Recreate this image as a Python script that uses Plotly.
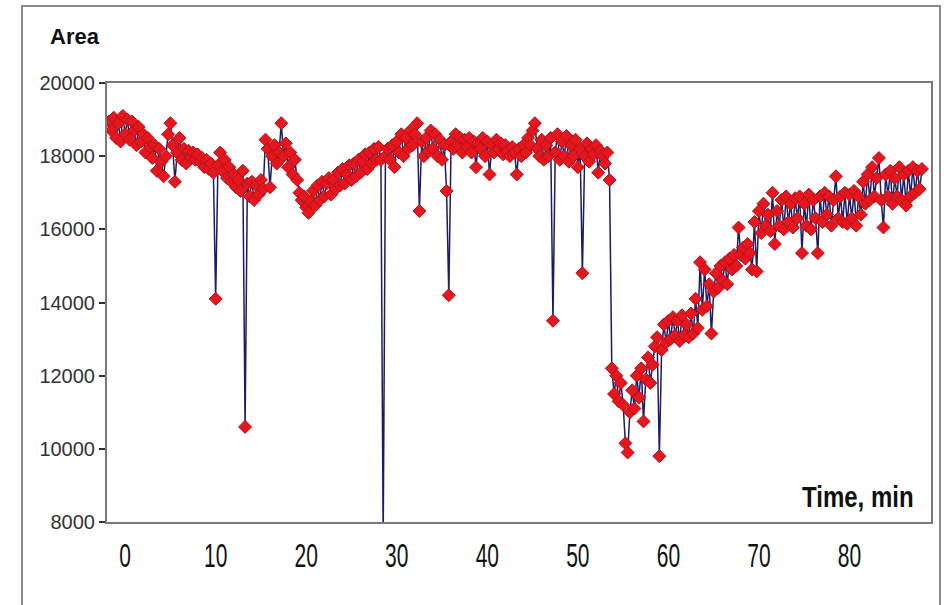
import plotly.graph_objects as go

# Sampling times (min) of the peak-area readings
TIME_MIN = [
    -1.75, -1.5, -1.25, -1.0, -0.75, -0.5, -0.25, 0.0,
    0.25, 0.5, 0.75, 1.0, 1.25, 1.5, 1.75, 2.0,
    2.25, 2.5, 2.75, 3.0, 3.25, 3.5, 3.75, 4.0,
    4.25, 4.5, 4.75, 5.0, 5.25, 5.5, 5.75, 6.0,
    6.25, 6.5, 6.75, 7.0, 7.25, 7.5, 7.75, 8.0,
    8.25, 8.5, 8.75, 9.0, 9.25, 9.5, 9.75, 10.0,
    10.25, 10.5, 10.75, 11.0, 11.25, 11.5, 11.75, 12.0,
    12.25, 12.5, 12.75, 13.0, 13.25, 13.5, 13.75, 14.0,
    14.25, 14.5, 14.75, 15.0, 15.25, 15.5, 15.75, 16.0,
    16.25, 16.5, 16.75, 17.0, 17.25, 17.5, 17.75, 18.0,
    18.25, 18.5, 18.75, 19.0, 19.25, 19.5, 19.75, 20.0,
    20.25, 20.5, 20.75, 21.0, 21.25, 21.5, 21.75, 22.0,
    22.25, 22.5, 22.75, 23.0, 23.25, 23.5, 23.75, 24.0,
    24.25, 24.5, 24.75, 25.0, 25.25, 25.5, 25.75, 26.0,
    26.25, 26.5, 26.75, 27.0, 27.25, 27.5, 27.75, 28.0,
    28.25, 28.5, 28.75, 29.0, 29.25, 29.5, 29.75, 30.0,
    30.25, 30.5, 30.75, 31.0, 31.25, 31.5, 31.75, 32.0,
    32.25, 32.5, 32.75, 33.0, 33.25, 33.5, 33.75, 34.0,
    34.25, 34.5, 34.75, 35.0, 35.25, 35.5, 35.75, 36.0,
    36.25, 36.5, 36.75, 37.0, 37.25, 37.5, 37.75, 38.0,
    38.25, 38.5, 38.75, 39.0, 39.25, 39.5, 39.75, 40.0,
    40.25, 40.5, 40.75, 41.0, 41.25, 41.5, 41.75, 42.0,
    42.25, 42.5, 42.75, 43.0, 43.25, 43.5, 43.75, 44.0,
    44.25, 44.5, 44.75, 45.0, 45.25, 45.5, 45.75, 46.0,
    46.25, 46.5, 46.75, 47.0, 47.25, 47.5, 47.75, 48.0,
    48.25, 48.5, 48.75, 49.0, 49.25, 49.5, 49.75, 50.0,
    50.25, 50.5, 50.75, 51.0, 51.25, 51.5, 51.75, 52.0,
    52.25, 52.5, 52.75, 53.0, 53.25, 53.5, 53.75, 54.0,
    54.25, 54.5, 54.75, 55.0, 55.25, 55.5, 55.75, 56.0,
    56.25, 56.5, 56.75, 57.0, 57.25, 57.5, 57.75, 58.0,
    58.25, 58.5, 58.75, 59.0, 59.25, 59.5, 59.75, 60.0,
    60.25, 60.5, 60.75, 61.0, 61.25, 61.5, 61.75, 62.0,
    62.25, 62.5, 62.75, 63.0, 63.25, 63.5, 63.75, 64.0,
    64.25, 64.5, 64.75, 65.0, 65.25, 65.5, 65.75, 66.0,
    66.25, 66.5, 66.75, 67.0, 67.25, 67.5, 67.75, 68.0,
    68.25, 68.5, 68.75, 69.0, 69.25, 69.5, 69.75, 70.0,
    70.25, 70.5, 70.75, 71.0, 71.25, 71.5, 71.75, 72.0,
    72.25, 72.5, 72.75, 73.0, 73.25, 73.5, 73.75, 74.0,
    74.25, 74.5, 74.75, 75.0, 75.25, 75.5, 75.75, 76.0,
    76.25, 76.5, 76.75, 77.0, 77.25, 77.5, 77.75, 78.0,
    78.25, 78.5, 78.75, 79.0, 79.25, 79.5, 79.75, 80.0,
    80.25, 80.5, 80.75, 81.0, 81.25, 81.5, 81.75, 82.0,
    82.25, 82.5, 82.75, 83.0, 83.25, 83.5, 83.75, 84.0,
    84.25, 84.5, 84.75, 85.0, 85.25, 85.5, 85.75, 86.0,
    86.25, 86.5, 86.75, 87.0, 87.25, 87.5, 87.75, 88.0,
]

# Peak area at each sampling time
AREA = [
    18950, 18700, 19050, 18500, 18900, 18400, 19100, 18600,
    19000, 18450, 18950, 18700, 18300, 18800, 18400, 18600,
    18100, 18500, 18250, 17950, 18300, 17600, 18200, 17850,
    17450, 18000, 18600, 18900, 18300, 17300, 18100, 18500,
    17900, 18200, 17800, 18150, 17950, 18100, 17900, 18050,
    17850, 17950, 17700, 17900, 17650, 17800, 17550, 14100,
    17750, 18100, 17600, 17900, 17400, 17700, 17300, 17500,
    17150, 17350, 17050, 17600, 10600, 17250, 16900, 17300,
    16800, 17200, 16950, 17350, 17100, 18450, 18200, 17150,
    18000, 18300, 17800, 18100, 18900, 18000, 18350, 17700,
    18100, 17500, 17900, 17350, 17000, 16800, 16900, 16600,
    16450, 16750, 17050, 16650, 17200, 16800, 17300, 16900,
    17250, 17400, 16950, 17350, 17100, 17550, 17200, 17650,
    17250, 17500, 17750, 17350, 17800, 17450, 17900, 17550,
    17850, 18050, 17650, 18100, 17800, 18200, 17900, 18250,
    17900, 7500, 18000, 18200, 17900, 18300, 17700, 18400,
    18100, 18600, 18000, 18500, 18200, 18700, 18300, 18600,
    18900, 16500, 18400, 18000, 18500, 18150, 18700, 18200,
    18600, 18000, 18450, 17900, 18300, 17050, 14200, 18400,
    18200, 18600, 18300, 18500, 18100, 18450, 18250, 18500,
    18100, 18400, 17700, 18350, 18200, 18500, 18000, 18400,
    17500, 18300, 18100, 18450, 18200, 18350, 18050, 18300,
    18150, 18000, 18250, 18100, 17500, 18200, 18000, 18300,
    18100, 18500, 18300, 18700, 18900, 18200, 18000, 18450,
    17900, 18300, 18000, 18500, 13500, 18100, 18600, 17900,
    18400, 18000, 18550, 17850, 18300, 18000, 18450, 17700,
    18200, 14800, 18000, 18350, 17850, 18200, 18050, 18300,
    17550, 18150, 18000, 17800, 18100, 17350, 12200, 11500,
    12000, 11300, 11800, 11200, 10150, 9900, 11000, 11600,
    11100, 12000, 11400, 12200, 10750, 11900, 12500, 11800,
    12300, 12800, 13050, 9800, 12700, 13400, 12900, 13500,
    13000, 13600, 13100, 13500, 12950, 13650, 13100, 13400,
    13050, 13700, 13150, 14100, 13300, 15100, 13800, 14900,
    13900, 14500, 13150, 14300, 14800, 14400, 15000, 14600,
    15100, 14500, 15200, 14900, 15300, 15000, 16050, 15300,
    15500, 15200, 15600, 15350, 14900, 16200, 14850, 16500,
    15900, 16700, 16100, 16400, 15950, 17000, 15600, 16500,
    16100, 16800, 16000, 16900, 16200, 16700, 16050, 16850,
    16300, 16900, 15350, 16700, 16100, 16950, 16000, 16800,
    16300, 15350, 16900, 16200, 17000, 16400, 16900, 16100,
    16800, 17450, 16300, 16900, 16200, 17000, 16150, 16950,
    16300, 17050, 16100, 16900, 16400, 17300, 16700, 17500,
    16800, 17700, 16900, 17400, 17950, 16800, 16050, 17500,
    16900, 17600, 16700, 17400, 16900, 17700, 16800, 17500,
    16650, 17600, 16900, 17700, 17000, 17600, 17100, 17650,
]

X_TICKS = [0, 10, 20, 30, 40, 50, 60, 70, 80]
Y_TICKS = [8000, 10000, 12000, 14000, 16000, 18000, 20000]
Y_TICK_TEXT = ["8000", "10000", "12000", "14000", "16000", "18000", "20000"]

assert len(TIME_MIN) == len(AREA)

W, H = 947, 605
ML, MR, MT, MB = 107, 16, 83, 83
PW, PH = W - ML - MR, H - MT - MB


def px_x(p):
    return (p - ML) / PW


def px_y(p):
    return (H - MB - p) / PH


fig = go.Figure()
fig.add_trace(go.Scatter(
    x=TIME_MIN, y=AREA, mode="lines+markers",
    line=dict(color="#1b1b66", width=1.5),
    marker=dict(symbol="diamond", size=10, color="#e5161d",
                line=dict(color="#b3121a", width=1)),
    showlegend=False,
))

# outer chart frame
fig.add_shape(type="rect", xref="paper", yref="paper",
              x0=px_x(22), x1=px_x(940), y0=px_y(640), y1=px_y(6),
              line=dict(color="#8c8c8c", width=2), layer="below")

fig.add_annotation(text="<b>Area</b>", xref="paper", yref="paper",
                   x=px_x(48), y=px_y(36), xanchor="left", yanchor="middle",
                   showarrow=False,
                   font=dict(family="Liberation Sans, Arial", size=22, color="#111"))
fig.add_annotation(text="<b>Time, min</b>", xref="paper", yref="paper",
                   x=px_x(916), y=px_y(496), xanchor="right", yanchor="middle",
                   showarrow=False,
                   font=dict(family="Liberation Sans, Arial", size=24, color="#111"))

fig.update_layout(
    width=W, height=H,
    margin=dict(l=ML, r=MR, t=MT, b=MB),
    paper_bgcolor="white", plot_bgcolor="white",
    xaxis=dict(range=[-2.0, 89.0], tickvals=X_TICKS, showgrid=False, zeroline=False,
               showline=True, mirror=True, linecolor="#7a7a7a", linewidth=2,
               ticks="outside", ticklen=14, tickcolor="rgba(0,0,0,0)",
               tickfont=dict(family="Liberation Sans, Arial", size=21, color="#111")),
    yaxis=dict(range=[8000, 20000], tickvals=Y_TICKS, ticktext=Y_TICK_TEXT,
               showgrid=False, zeroline=False,
               showline=True, mirror=True, linecolor="#7a7a7a", linewidth=2,
               ticks="outside", ticklen=6, tickcolor="#333", tickwidth=2,
               tickfont=dict(family="Liberation Sans, Arial", size=20, color="#333")),
)

# narrow, tall lettering for the time-axis numbers and its caption
STRETCH_JS = """
var gd = document.getElementById('{plot_id}');
function stretchText(nodes, sy) {
  nodes.forEach(function (t) {
    var base = t.getAttribute('transform') || '';
    var bb = t.getBBox();
    var cx = bb.x + bb.width / 2, cy = bb.y + bb.height / 2;
    t.setAttribute('transform', base + ' translate(' + cx + ',' + cy + ') scale(1,' + sy +
                   ') translate(' + (-cx) + ',' + (-cy) + ')');
  });
}
stretchText(Array.from(gd.querySelectorAll('.xtick text')), 1.55);
stretchText(Array.from(gd.querySelectorAll('.annotation-text')).filter(function (t) {
  return t.textContent.indexOf('Time') === 0;
}), 1.25);
"""

fig.write_html("out.html", post_script=STRETCH_JS)
